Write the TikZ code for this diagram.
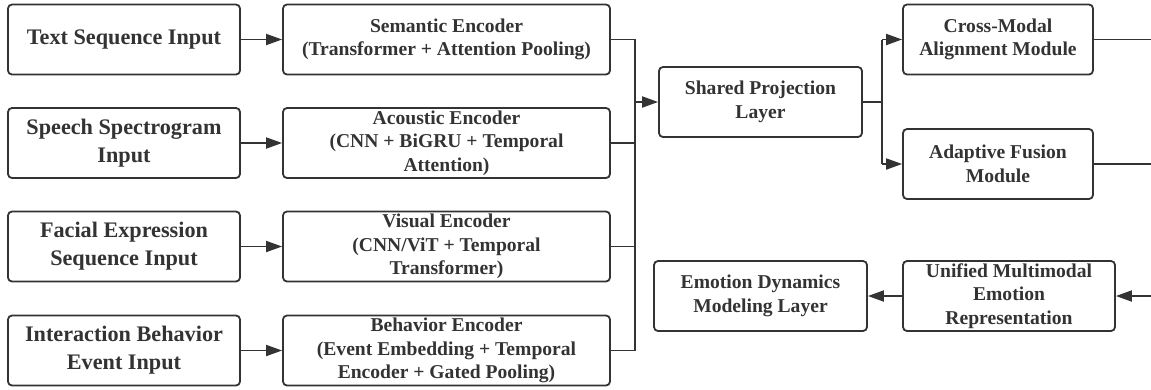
\documentclass[tikz,border=0pt]{standalone}
\usepackage{fontspec}
\setmainfont{Liberation Serif}
\usetikzlibrary{arrows.meta,calc}
\definecolor{ink}{RGB}{51,51,51}
\tikzset{
  box/.style={draw=ink, line width=1.8pt, rounded corners=4pt, inner sep=0pt, align=center,
    text=ink, font=\bfseries\fontsize{19.6}{23.5}\selectfont, minimum height=70pt},
  inbox/.style={box, minimum width=232pt, font=\bfseries\fontsize{22.2}{28}\selectfont},
  encbox/.style={box, minimum width=327pt},
  conn/.style={draw=ink, line width=1.8pt},
  arr/.style={conn, -{Triangle[length=16pt,width=11pt]}}
}
\begin{document}
\begin{tikzpicture}[x=1pt,y=-1pt]
\useasboundingbox (0,0) rectangle (1151,389);
% inputs
\node[inbox] (txt) at (124,39.5) {Text Sequence Input};
\node[inbox] (spe) at (124,143) {Speech Spectrogram\\Input};
\node[inbox] (fac) at (124,246.5) {Facial Expression\\Sequence Input};
\node[inbox] (int) at (124,350.5) {Interaction Behavior\\Event Input};
% encoders
\node[encbox] (sem) at (446.5,39.5) {Semantic Encoder\\(Transformer + Attention Pooling)};
\node[encbox] (aco) at (446.5,143) {Acoustic Encoder\\(CNN + BiGRU + Temporal\\Attention)};
\node[encbox] (vis) at (446.5,246.5) {Visual Encoder\\(CNN/ViT + Temporal\\Transformer)};
\node[encbox] (beh) at (446.5,350.5) {Behavior Encoder\\(Event Embedding + Temporal\\Encoder + Gated Pooling)};
% middle / right
\node[box, minimum width=203pt] (sha) at (760.5,102) {Shared Projection\\Layer};
\node[box, minimum width=190pt] (cro) at (998,39.5) {Cross-Modal\\Alignment Module};
\node[box, minimum width=190pt] (ada) at (998,164) {Adaptive Fusion\\Module};
\node[box, minimum width=212pt] (uni) at (1009,296) {Unified Multimodal\\Emotion\\Representation};
\node[box, minimum width=213pt] (emo) at (760.5,296) {Emotion Dynamics\\Modeling Layer};
% helper coordinates
\coordinate (bus) at (635,0);
\coordinate (br) at (882,0);
\coordinate (edge) at (1151,0);
% input -> encoder
\draw[arr] (txt.east) -- (sem.west);
\draw[arr] (spe.east) -- (aco.west);
\draw[arr] (fac.east) -- (vis.west);
\draw[arr] (int.east) -- (beh.west);
% encoders -> bus
\draw[conn] (sem.east) -- (sem.east -| bus) -- (beh.east -| bus) -- (beh.east);
\draw[conn] (aco.east) -- (aco.east -| bus);
\draw[conn] (vis.east) -- (vis.east -| bus);
\draw[arr] (sha.west -| bus) -- (sha.west);
% shared -> branches
\draw[conn] (sha.east) -- (sha.east -| br);
\draw[conn] (cro.west -| br) -- (ada.west -| br);
\draw[arr] (cro.west -| br) -- (cro.west);
\draw[arr] (ada.west -| br) -- (ada.west);
% outgoing to edge
\draw[conn] (cro.east) -- (cro.east -| edge);
\draw[conn] (ada.east) -- (ada.east -| edge);
\draw[arr] (uni.east -| edge) -- (uni.east);
\draw[arr] (uni.west) -- (emo.east);
\end{tikzpicture}
\end{document}
